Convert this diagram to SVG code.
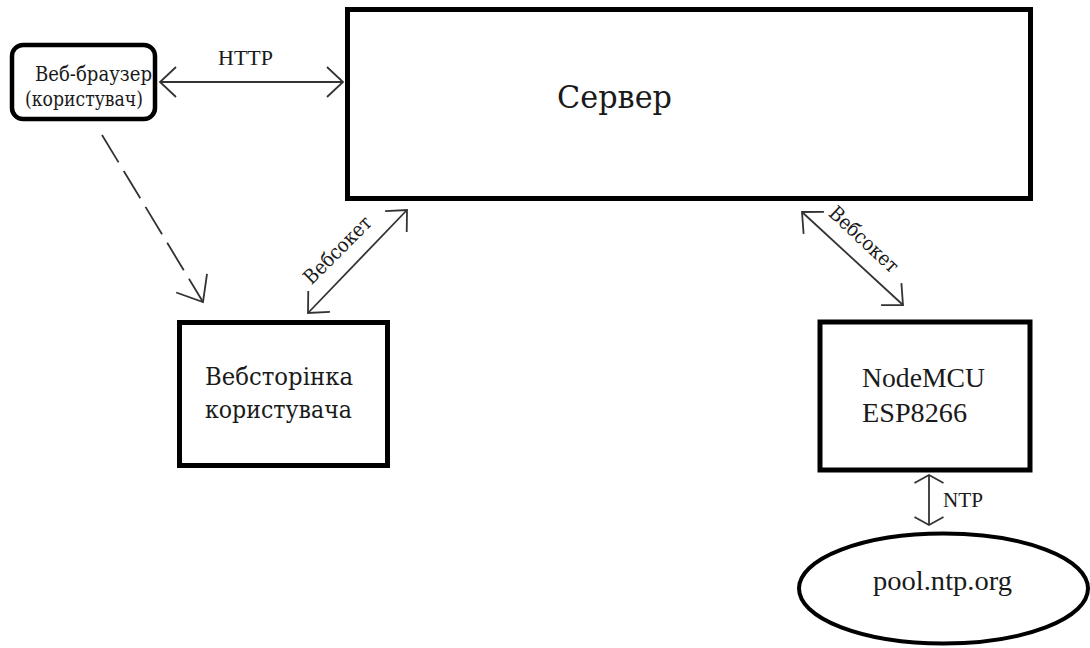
<svg xmlns="http://www.w3.org/2000/svg" width="1090" height="648" viewBox="0 0 1090 648">
<style>
  .node { fill: #fff; stroke: #000; }
  .t { font-family: "Liberation Serif", "DejaVu Serif", serif; fill: #1a1a1a; }
  .c { font-family: "DejaVu Serif", "Liberation Serif", serif; fill: #1a1a1a; }
  .conn { fill: none; stroke: #333; stroke-width: 1.8; }
  .dash { stroke-dasharray: 32 10; }
</style>
<defs>
  <marker id="ah" markerUnits="userSpaceOnUse" markerWidth="40" markerHeight="40" viewBox="-30 -20 40 40" refX="0" refY="0" orient="auto-start-reverse" overflow="visible">
    <path d="M-16,-15 L0,0 L-16,15" fill="none" stroke="#333" stroke-width="1.8"/>
  </marker>
  <marker id="ahw" markerUnits="userSpaceOnUse" markerWidth="40" markerHeight="40" viewBox="-30 -20 40 40" refX="0" refY="0" orient="auto-start-reverse" overflow="visible">
    <path d="M-8,-14.5 L0,0 L-8,14.5" fill="none" stroke="#333" stroke-width="1.8"/>
  </marker>
  <marker id="ahd" markerUnits="userSpaceOnUse" markerWidth="60" markerHeight="60" viewBox="-30 -30 60 60" refX="0" refY="0" orient="auto" overflow="visible">
    <path d="M-22,-18 L0,0 L-22,18" fill="none" stroke="#333" stroke-width="1.8"/>
  </marker>
</defs>
<rect width="1090" height="648" fill="#fff"/>

<g id="connectors">
  <g id="conn-http">
    <line class="conn" x1="160" y1="82" x2="343" y2="82" marker-start="url(#ah)" marker-end="url(#ah)"/>
    <text class="t" x="218" y="65" font-size="20" textLength="55" lengthAdjust="spacingAndGlyphs">HTTP</text>
  </g>
  <g id="conn-browser-page">
    <line class="conn dash" x1="102" y1="135" x2="203" y2="302" marker-end="url(#ahd)"/>
  </g>
  <g id="conn-ws-left">
    <line class="conn" x1="308" y1="313" x2="407" y2="210" marker-start="url(#ah)" marker-end="url(#ah)"/>
    <text class="c" font-size="20" x="-43" y="0" textLength="87" lengthAdjust="spacingAndGlyphs" transform="translate(342,255) rotate(-45)">Вебсокет</text>
  </g>
  <g id="conn-ws-right">
    <line class="conn" x1="802" y1="212" x2="903" y2="305" marker-start="url(#ah)" marker-end="url(#ah)"/>
    <text class="c" font-size="20" x="-43" y="0" textLength="87" lengthAdjust="spacingAndGlyphs" transform="translate(859,244) rotate(43)">Вебсокет</text>
  </g>
  <g id="conn-ntp">
    <line class="conn" x1="929" y1="475" x2="929" y2="525" marker-start="url(#ahw)" marker-end="url(#ahw)"/>
    <text class="t" x="943" y="507" font-size="20" textLength="40" lengthAdjust="spacingAndGlyphs">NTP</text>
  </g>
</g>

<g id="node-browser">
  <rect class="node" x="12" y="45" width="143" height="74" rx="11" ry="11" stroke-width="4.5"/>
  <text class="c" x="35" y="81" font-size="21" textLength="117" lengthAdjust="spacingAndGlyphs">Веб-браузер</text>
  <text class="c" x="25" y="106" font-size="21" textLength="118" lengthAdjust="spacingAndGlyphs">(користувач)</text>
</g>

<g id="node-server">
  <rect class="node" x="347.5" y="9.5" width="683" height="189" stroke-width="5"/>
  <text class="c" x="557" y="108" font-size="32" textLength="115" lengthAdjust="spacingAndGlyphs">Сервер</text>
</g>

<g id="node-webpage">
  <rect class="node" x="179.5" y="322.5" width="208" height="143" stroke-width="5"/>
  <text class="c" x="205" y="385" font-size="25" textLength="148" lengthAdjust="spacingAndGlyphs">Вебсторінка</text>
  <text class="c" x="205" y="418" font-size="25" textLength="147" lengthAdjust="spacingAndGlyphs">користувача</text>
</g>

<g id="node-nodemcu">
  <rect class="node" x="820" y="322" width="210" height="148" stroke-width="5"/>
  <text class="t" x="862" y="387" font-size="27" textLength="123" lengthAdjust="spacingAndGlyphs">NodeMCU</text>
  <text class="t" x="862" y="422" font-size="27" textLength="105" lengthAdjust="spacingAndGlyphs">ESP8266</text>
</g>

<g id="node-ntp">
  <ellipse class="node" cx="943.5" cy="588.5" rx="144.5" ry="55" stroke-width="4"/>
  <text class="t" x="873" y="590" font-size="28" textLength="139" lengthAdjust="spacingAndGlyphs">pool.ntp.org</text>
</g>
</svg>
